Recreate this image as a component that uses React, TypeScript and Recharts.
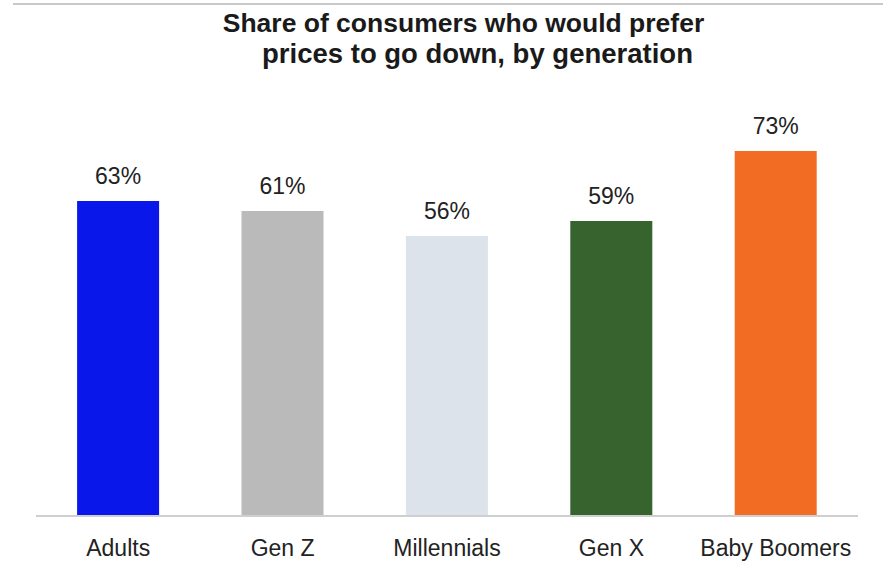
import React from "react";
import { BarChart, Bar, XAxis, YAxis, Cell, LabelList } from "recharts";

const categories = ["Adults", "Gen Z", "Millennials", "Gen X", "Baby Boomers"];
const values = [63, 61, 56, 59, 73];
const colors = ["#0A17EA", "#B9BAB9", "#DCE3EA", "#36632E", "#F26C24"];
const titleLines = ["Share of consumers who would prefer", "prices to go down, by generation"];

const data = categories.map((c, i) => ({ name: c, value: values[i] }));

const font = "'Liberation Sans', Arial, sans-serif";

export default function App() {
  return (
    <div style={{ position: "absolute", left: 0, top: 0, width: 883, height: 561, background: "#fff", fontFamily: font }}>
      <div style={{ position: "absolute", left: 13, top: 3, width: 870, height: 0, borderTop: "2px solid #c9c9c9" }} />
      <div style={{ position: "absolute", left: 0, top: 8, width: 927, textAlign: "center", fontSize: 26.5, fontWeight: "bold", color: "#1a1a1a", lineHeight: "30px", whiteSpace: "nowrap" }}>
        {titleLines[0]}
      </div>
      <div style={{ position: "absolute", left: 0, top: 39, width: 955, textAlign: "center", fontSize: 27.5, fontWeight: "bold", color: "#1a1a1a", lineHeight: "30px", whiteSpace: "nowrap" }}>
        {titleLines[1]}
      </div>
      <div style={{ position: "absolute", left: 0, top: 0 }}>
        <BarChart width={883} height={561} data={data} margin={{ top: 16, right: 25, bottom: 15, left: 36 }} barCategoryGap="25%">
          <XAxis
            dataKey="name"
            axisLine={{ stroke: "#cfcfcf", strokeWidth: 2 }}
            tickLine={false}
            tickMargin={18}
            interval={0}
            tick={{ fontSize: 23, fill: "#222", fontFamily: font }}
          />
          <YAxis hide domain={[0, 100]} />
          <Bar dataKey="value" isAnimationActive={false}>
            {data.map((d, i) => (
              <Cell key={d.name} fill={colors[i]} />
            ))}
            <LabelList
              dataKey="value"
              position="top"
              offset={17}
              formatter={(v: any) => `${v}%`}
              style={{ fontSize: 23, fill: "#222", fontFamily: font }}
            />
          </Bar>
        </BarChart>
      </div>
    </div>
  );
}
